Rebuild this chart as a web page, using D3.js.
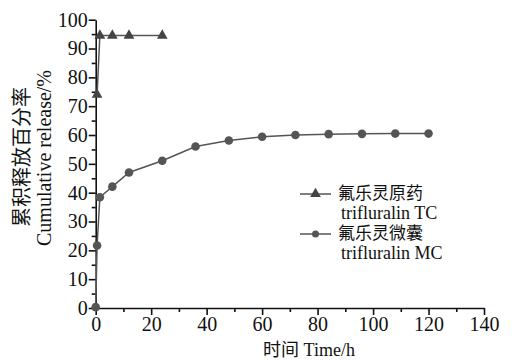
<!DOCTYPE html>
<html>
<head>
	<meta charset="utf-8">
	<script src="https://d3js.org/d3.v7.min.js"></script>
	<style>
		body { margin: 0; background: #fff; }
		text { font-family: "Liberation Serif", "DejaVu Serif", "Noto Sans CJK SC", serif; }
	</style>
</head>
<body>
	<svg id="chart" width="515" height="360"></svg>
<script>
	// release data
	var tcTime = [0.5, 1.5, 6, 12, 24]
	var tcRelease = [74, 94.5, 94.5, 94.5, 94.5]
	var mcTime = [0, 0.5, 1.5, 6, 12, 24, 36, 48, 60, 72, 84, 96, 108, 120]
	var mcRelease = [0.3, 21.7, 38.4, 42.1, 47, 51.1, 56, 58.1, 59.4, 60, 60.3, 60.4, 60.5, 60.5]
	var xTicks = [0, 20, 40, 60, 80, 100, 120, 140]
	var yTicks = [0, 10, 20, 30, 40, 50, 60, 70, 80, 90, 100]
	var legendNames = [["氟乐灵原药", "trifluralin TC"], ["氟乐灵微囊", "trifluralin MC"]]

	var serif = "'Liberation Serif', 'DejaVu Serif', serif"
	var svg = d3.select("#chart")
	var margin = { left: 95.7, top: 19.7, right: 31, bottom: 52 }
	var w = 515 - margin.left - margin.right,
		h = 360 - margin.top - margin.bottom

	var g = svg.append("g").attr("transform", "translate(" + margin.left + "," + margin.top + ")")

	var x = d3.scaleLinear().domain([0, 140]).range([0, w]),
		y = d3.scaleLinear().domain([0, 100]).range([h, 0])

	// minor ticks first, then major with labels
	g.append("g").attr("transform", "translate(0," + h + ")")
		.call(d3.axisBottom(x).tickValues(d3.range(10, 140, 20)).tickSize(4).tickFormat(""))
		.call(s => s.select(".domain").remove())
	g.append("g").call(d3.axisLeft(y).tickValues(d3.range(5, 100, 10)).tickSize(4).tickFormat(""))
		.call(s => s.select(".domain").remove())

	var xAxis = g.append("g").attr("transform", "translate(0," + h + ")")
		.call(d3.axisBottom(x).tickValues(xTicks).tickSize(7).tickSizeOuter(0).tickPadding(2))
	var yAxis = g.append("g")
		.call(d3.axisLeft(y).tickValues(yTicks).tickSize(7).tickSizeOuter(0).tickPadding(1))

	svg.selectAll(".tick text").attr("font-size", 20).attr("font-family", serif).attr("fill", "#111")
	svg.selectAll(".domain, .tick line").attr("stroke", "#111").attr("stroke-width", 1.6)

	var line = d3.line().x(d => x(d[0])).y(d => y(d[1]))
	var tc = tcTime.map((t, i) => [t, tcRelease[i]])
	var mc = mcTime.map((t, i) => [t, mcRelease[i]])
	var col = "#555"

	g.append("path").datum(tc).attr("d", line).attr("fill", "none").attr("stroke", col).attr("stroke-width", 1.5)
	g.append("path").datum(mc).attr("d", line).attr("fill", "none").attr("stroke", col).attr("stroke-width", 1.5)

	var tri = d3.symbol().type(d3.symbolTriangle).size(50)
	g.selectAll(".tc").data(tc).enter().append("path")
		.attr("transform", d => "translate(" + x(d[0]) + "," + y(d[1]) + ")")
		.attr("d", tri).attr("fill", "#444")
	g.selectAll(".mc").data(mc).enter().append("circle")
		.attr("cx", d => x(d[0])).attr("cy", d => y(d[1])).attr("r", 4.3).attr("fill", "#555")

	// legend
	var lg = svg.append("g")
	legendNames.forEach(function (n, i) {
		var yy = 194 + i * 40
		lg.append("line").attr("x1", 300).attr("x2", 331).attr("y1", yy).attr("y2", yy).attr("stroke", col).attr("stroke-width", 1.5)
		if (i == 0) {
			lg.append("path").attr("transform", "translate(315.5," + yy + ")").attr("d", tri).attr("fill", "#444")
		} else {
			lg.append("circle").attr("cx", 315.5).attr("cy", yy).attr("r", 3.5).attr("fill", "#555")
		}
		lg.append("text").attr("x", 338).attr("y", yy + 5).attr("font-size", 17)
			.attr("font-family", "Noto Sans CJK SC").attr("fill", "#111").text(n[0])
		lg.append("text").attr("x", 341).attr("y", yy + 25).attr("font-size", 18)
			.attr("font-family", serif).attr("fill", "#111").text(n[1])
	})

	// axis titles
	svg.append("text").attr("x", 309).attr("y", 356).attr("text-anchor", "middle").attr("font-size", 18)
		.attr("fill", "#111").text("时间 Time/h")
	svg.append("text").attr("transform", "translate(29,157) rotate(-90)").attr("text-anchor", "middle")
		.attr("font-size", 20).attr("font-family", "Noto Sans CJK SC").attr("fill", "#111").text("累积释放百分率")
	svg.append("text").attr("transform", "translate(51,158) rotate(-90)").attr("text-anchor", "middle")
		.attr("font-size", 20).attr("font-family", serif).attr("fill", "#111").text("Cumulative release/%")
</script>
</body>
</html>
